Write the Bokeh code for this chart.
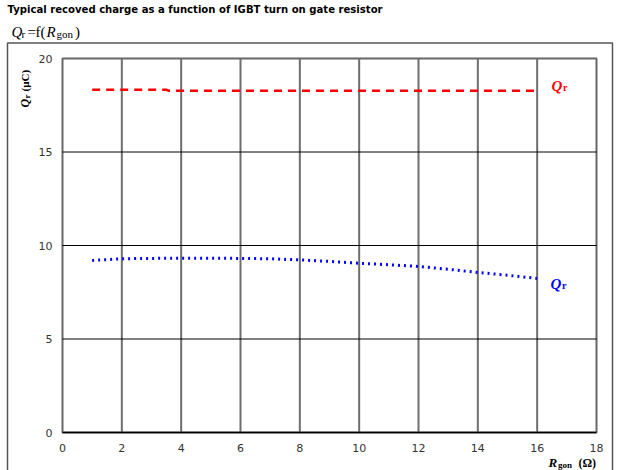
import math
from bokeh.plotting import figure
from bokeh.models import Label, Range1d, FixedTicker, LinearAxis
from bokeh.embed import file_html
from bokeh.resources import INLINE

# ---- data ----
title_text = "Typical recoved charge as a function of IGBT turn on gate resistor"
x_ticks = [0, 2, 4, 6, 8, 10, 12, 14, 16, 18]
y_ticks = [0, 5, 10, 15, 20]

qr_red_x = [1.0, 2.0, 3.0, 3.5, 3.6, 5.0, 7.0, 9.0, 11.0, 13.0, 15.0, 16.0]
qr_red_y = [18.33, 18.33, 18.33, 18.33, 18.27, 18.27, 18.27, 18.27, 18.27, 18.27, 18.27, 18.27]

qr_blue_x = [1.0, 2.0, 3.0, 4.0, 5.0, 6.0, 7.0, 8.0, 9.0, 10.0, 11.0, 12.0, 13.0, 14.0, 15.0, 16.0]
qr_blue_y = [9.20, 9.29, 9.31, 9.32, 9.32, 9.31, 9.29, 9.23, 9.15, 9.05, 8.97, 8.88, 8.73, 8.56, 8.41, 8.24]

W, H = 622, 470
# pixel box of the data area (0..18 x 0..20)
PL, PR, PT, PB = 62, 596, 58, 432
X0, X1 = x_ticks[0], x_ticks[-1]
Y0, Y1 = y_ticks[0], y_ticks[-1]
kx = (PR - PL) / (X1 - X0)
ky = (PB - PT) / (Y1 - Y0)


def dx(px):  # pixel x -> data x
    return X0 + (px - PL) / kx


def dy(py):  # pixel y (from top) -> data y
    return Y0 + (PB - py) / ky


p = figure(width=W, height=H, output_backend="svg", toolbar_location=None,
           x_range=Range1d(dx(0), dx(W)), y_range=Range1d(dy(H), dy(0)),
           x_axis_location=None, y_axis_location=None,
           min_border=0, min_border_left=0, min_border_right=0,
           min_border_top=0, min_border_bottom=0)
p.background_fill_color = "white"
p.border_fill_color = "white"
p.outline_line_color = None
p.xgrid.visible = False
p.ygrid.visible = False

# outer frame
p.quad(left=dx(7), right=dx(612), top=dy(42.5), bottom=dy(H + 20),
       fill_color=None, line_color="#555555", line_width=1.5)
# plot area frame
p.quad(left=X0, right=X1, top=Y1, bottom=Y0, fill_color="white",
       line_color="#666666", line_width=2)

# grid lines
gx = x_ticks[1:-1]
p.segment(x0=gx, y0=[Y0] * len(gx), x1=gx, y1=[Y1] * len(gx),
          line_color="#6e6e6e", line_width=2)
gy = y_ticks[1:-1]
p.segment(x0=[X0] * len(gy), y0=gy, x1=[X1] * len(gy), y1=gy,
          line_color="black", line_width=1)

# axes drawn at fixed locations
xax = LinearAxis(ticker=FixedTicker(ticks=x_ticks), fixed_location=Y0, bounds=(X0, X1))
yax = LinearAxis(ticker=FixedTicker(ticks=y_ticks), fixed_location=X0, bounds=(Y0, Y1))
for ax in (xax, yax):
    ax.major_tick_line_color = None
    ax.minor_tick_line_color = None
    ax.major_label_text_font = "DejaVu Sans"
    ax.major_label_text_font_size = "11px"
    ax.major_label_text_color = "#333333"
xax.axis_line_color = "black"
xax.axis_line_width = 1.5
xax.major_label_standoff = 5
yax.axis_line_color = None
yax.major_label_standoff = 4
p.add_layout(xax, "below")
p.add_layout(yax, "left")

p.line(qr_red_x, qr_red_y, line_color="red", line_width=2.5, line_dash="8 6")
p.line(qr_blue_x, qr_blue_y, line_color="blue", line_width=3, line_dash="2 4")

SERIF = "Liberation Serif"
SHIFT = 4  # rendered labels sit a little lower than their nominal baseline


def lab(x, y_top, text, size, font=SERIF, style="normal", color="black",
        angle=0.0, baseline="alphabetic", align="left"):
    if angle:
        x = x - SHIFT
    else:
        y_top = y_top - SHIFT
    p.add_layout(Label(x=x, y=H - y_top, x_units="screen", y_units="screen",
                       text=text, text_font=font, text_font_size=size,
                       text_font_style=style, text_color=color, angle=angle,
                       text_baseline=baseline, text_align=align))


# title
lab(7, 13, title_text, "10.1px", font="DejaVu Sans", style="bold")
# subtitle Qr = f(Rgon)
lab(11, 35, "Q", "15px", style="italic")
lab(21, 37, "r", "11px")
lab(27, 35, "=", "15px")
lab(35, 35, "f(", "15px")
lab(46, 35, "R", "15px", style="italic")
lab(56, 37.5, "gon", "11px")
lab(74.5, 35, ")", "15px")

# curve labels
lab(551, 89, "Q", "15px", style="bold italic", color="red")
lab(562.5, 91, "r", "10px", style="bold", color="red")
lab(550, 287, "Q", "15px", style="bold italic", color="blue")
lab(561.5, 289, "r", "10px", style="bold", color="blue")

# y axis label (rotated)
lab(28, 107, "Q", "12px", style="bold italic", angle=math.pi / 2)
lab(30, 98, "r", "9px", style="bold", angle=math.pi / 2)
lab(28, 91, "(µC)", "11px", style="bold", angle=math.pi / 2)

# x axis label
lab(548, 466, "R", "13px", style="bold italic")
lab(557.5, 468, "gon", "9px", style="bold")
lab(578, 466, "(Ω)", "12px", style="bold")

open("out.html", "w").write(file_html(p, INLINE))
